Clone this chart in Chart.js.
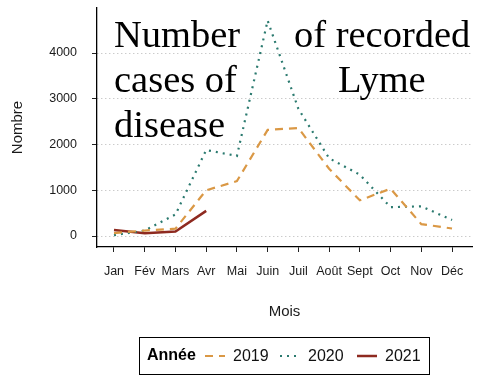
<!DOCTYPE html>
<html><head><meta charset="utf-8">
<script src="https://cdn.jsdelivr.net/npm/chart.js@4"></script>
<style>html,body{margin:0;padding:0;background:#fff}#wrap{width:480px;height:384px}</style>
</head><body><div id="wrap"><canvas id="c" width="480" height="384"></canvas></div>
<script>
const months = ['Jan','Fév','Mars','Avr','Mai','Juin','Juil','Août','Sept','Oct','Nov','Déc'];
const cases2019 = [65, 120, 160, 1000, 1200, 2320, 2360, 1470, 780, 1035, 260, 165];
const cases2020 = [20, 120, 470, 1880, 1750, 4710, 2780, 1700, 1340, 630, 650, 350];
const cases2021 = [130, 60, 100, 550];
const yTicks = [0, 1000, 2000, 3000, 4000];
const years = ['2019', '2020', '2021'];
const legendTitle = 'Année';
const xTitle = 'Mois';
const yTitle = 'Nombre';
const titleLines = [['Number', 'of recorded'], ['cases of', 'Lyme'], ['disease']];

const colors = ['#DA9845', '#2B7A6F', '#8E2A20'];
const dashes = [[8, 6], [2, 5], []];
const widths = [2.2, 2.2, 2.5];
const SANS = "'Liberation Sans', Arial, sans-serif";
Chart.defaults.font.family = SANS;

const series = [cases2019, cases2020, cases2021];
const datasets = series.map((arr, k) => ({
  label: years[k],
  data: arr.map((v, i) => ({x: i, y: v})),
  borderColor: colors[k],
  backgroundColor: colors[k],
  borderDash: dashes[k],
  borderWidth: widths[k],
  borderCapStyle: 'butt',
  pointRadius: 0,
  tension: 0,
  fill: false
}));

const titlePlugin = {
  id: 'bigTitle',
  afterDatasetsDraw(chart) {
    const ctx = chart.ctx;
    ctx.save();
    ctx.fillStyle = '#000';
    ctx.font = "38.5px 'Liberation Serif', 'Times New Roman', serif";
    ctx.textBaseline = 'alphabetic';
    ctx.textAlign = 'left';
    const xs = [[114, 294], [114, 338], [114]];
    const ys = [47, 92, 137];
    titleLines.forEach((line, r) => {
      line.forEach((w, j) => ctx.fillText(w, xs[r][j], ys[r]));
    });
    ctx.restore();
  }
};

const legendPlugin = {
  id: 'customLegend',
  afterDraw(chart) {
    const ctx = chart.ctx;
    ctx.save();
    ctx.strokeStyle = '#000';
    ctx.lineWidth = 1;
    ctx.strokeRect(139.5, 337.5, 290, 37);
    const cy = 356;
    ctx.textBaseline = 'middle';
    ctx.fillStyle = '#000';
    ctx.font = "bold 16px " + SANS;
    ctx.fillText(legendTitle, 147, cy);
    const keyX = [205, 280, 357];
    ctx.font = "16px " + SANS;
    chart.data.datasets.forEach((ds, k) => {
      ctx.save();
      ctx.strokeStyle = ds.borderColor;
      ctx.lineWidth = ds.borderWidth;
      ctx.setLineDash(ds.borderDash);
      ctx.lineCap = 'butt';
      ctx.beginPath();
      ctx.moveTo(keyX[k], cy);
      ctx.lineTo(keyX[k] + 20, cy);
      ctx.stroke();
      ctx.restore();
      ctx.fillStyle = '#111';
      ctx.fillText(ds.label, keyX[k] + 28, cy + 1);
    });
    ctx.restore();
  }
};

new Chart(document.getElementById('c'), {
  type: 'line',
  data: {datasets},
  plugins: [titlePlugin, legendPlugin],
  options: {
    responsive: false,
    animation: false,
    devicePixelRatio: 1,
    layout: {padding: {top: 8, right: 8, left: 0, bottom: 0}},
    plugins: {legend: {display: false}, tooltip: {enabled: false}, title: {display: false}},
    scales: {
      x: {
        type: 'linear',
        min: -0.553,
        max: 11.65,
        afterBuildTicks: s => { s.ticks = months.map((m, i) => ({value: i})); },
        afterFit: s => { s.height = 137; s.paddingLeft = 0; s.paddingRight = 0; },
        ticks: {
          autoSkip: false, maxRotation: 0, color: '#1a1a1a', padding: 12,
          font: {size: 12.5},
          callback: (v) => months[Math.round(v)]
        },
        grid: {drawOnChartArea: false, drawTicks: true, tickLength: 5, tickColor: '#222', color: '#222'},
        border: {display: true, color: '#000', width: 1.3},
        title: {display: true, text: xTitle, color: '#1a1a1a', font: {size: 15}, padding: {top: 0, bottom: 63}}
      },
      y: {
        type: 'linear',
        min: -240,
        max: 4984,
        afterBuildTicks: s => { s.ticks = yTicks.map(v => ({value: v})); },
        afterFit: s => { s.width = 97; s.paddingTop = 0; s.paddingBottom = 0; },
        ticks: {color: '#1a1a1a', padding: 15, font: {size: 12.5}, callback: v => String(v)},
        grid: {color: '#b5b5b5', lineWidth: 1, tickLength: 5, tickColor: '#222'},
        border: {display: true, color: '#000', width: 1.3, dash: [1, 3]},
        title: {display: true, text: yTitle, color: '#1a1a1a', font: {size: 15}, padding: {top: 9, bottom: 0}}
      }
    }
  }
});
</script>
</body></html>
